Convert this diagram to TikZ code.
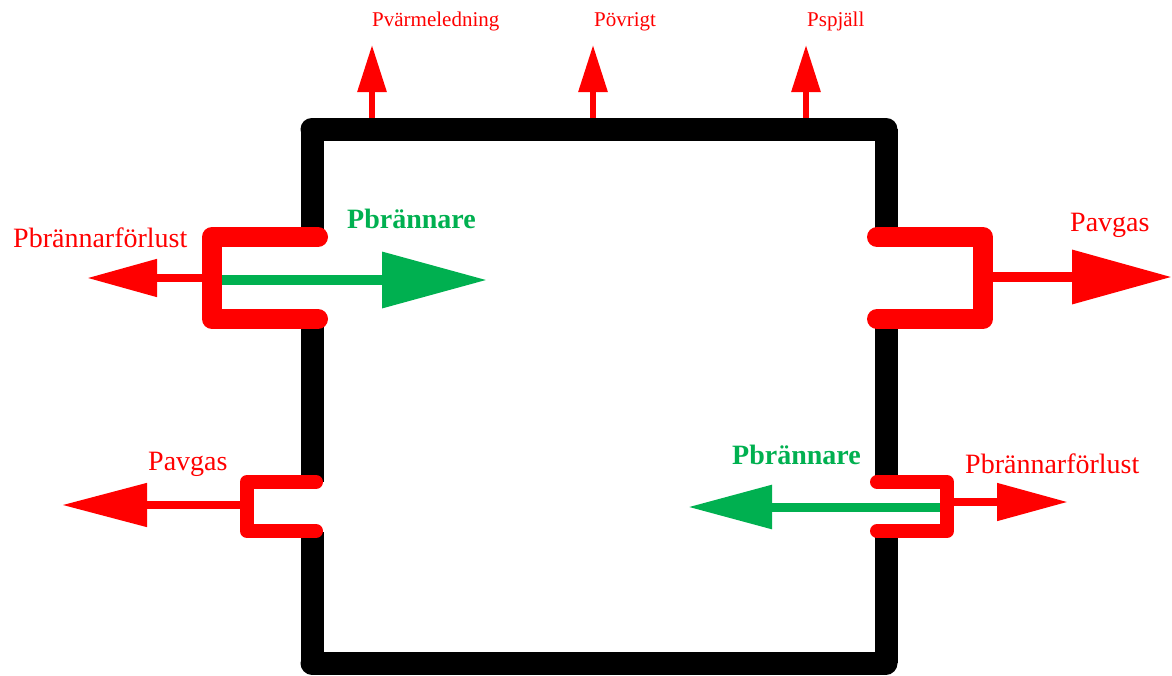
\documentclass[tikz,border=0pt]{standalone}
\usepackage{fontspec}
\setmainfont{Liberation Serif}
\usetikzlibrary{arrows.meta}
\definecolor{lossred}{RGB}{255,0,0}
\definecolor{burngreen}{RGB}{0,176,80}
\begin{document}
\begin{tikzpicture}[x=1pt,y=-1pt,
  wall/.style={line width=23pt,line cap=round},
  sidewall/.style={line width=23pt,line cap=butt},
  flange/.style={lossred,line width=20pt,line cap=round,line join=round},
  smallflange/.style={lossred,line width=14pt,line cap=round,line join=round},
  bigtext/.style={font=\fontsize{28}{32}\selectfont,inner sep=0pt,anchor=base west},
  smalltext/.style={font=\fontsize{21}{24}\selectfont,inner sep=0pt,anchor=base west,text=lossred},
  uparrow/.style={lossred,line width=6pt,-{Triangle[length=47pt,width=28pt]}}
]
\useasboundingbox (0,0) rectangle (1172,675);

% corners of the box
\coordinate (tl) at (312,129);
\coordinate (tr) at (886,129);
\coordinate (bl) at (312,663);
\coordinate (br) at (886,663);

% heat losses through the top
\node[smalltext] (lv) at (372,26) {Pvärmeledning};
\node[smalltext] (lo) at (594,26) {Pövrigt};
\node[smalltext] (ls) at (807,26) {Pspjäll};
\coordinate (v0) at (372,129); \coordinate (v1) at (372,45);
\coordinate (o0) at (593,129); \coordinate (o1) at (593,45);
\coordinate (s0) at (806,129); \coordinate (s1) at (806,45);
\draw[uparrow] (v0) -- (v1);
\draw[uparrow] (o0) -- (o1);
\draw[uparrow] (s0) -- (s1);

% walls, open where the burner ports sit
\draw[sidewall] (tl) -- (312,237) (312,320) -- (312,482) (312,532) -- (bl);
\draw[sidewall] (tr) -- (886,237) (886,320) -- (886,482) (886,532) -- (br);
\draw[wall] (tl) -- (tr);
\draw[wall] (bl) -- (br);

% upper left port
\coordinate (ula) at (212,278); \coordinate (ulb) at (87,278);
\coordinate (ulg) at (212,280); \coordinate (ulh) at (487,280);
\draw[lossred,line width=8pt,-{Triangle[length=70pt,width=36pt]}] (ula) -- (ulb);
\draw[burngreen,line width=10pt,-{Triangle[length=105pt,width=54pt]}] (ulg) -- (ulh);
\draw[flange] (318,237) -- (212,237) -- (212,319) -- (318,319);
\node[bigtext,text=lossred] (ulf) at (13,247) {Pbrännarförlust};
\node[bigtext,text=burngreen] (ulp) at (347,228) {\bfseries Pbrännare};

% upper right port
\coordinate (ura) at (983,277); \coordinate (urb) at (1172,277);
\draw[lossred,line width=10pt,-{Triangle[length=100pt,width=52pt]}] (ura) -- (urb);
\draw[flange] (877,237) -- (983,237) -- (983,319) -- (877,319);
\node[bigtext,text=lossred] (urg) at (1070,231) {Pavgas};

% lower left port
\coordinate (lla) at (247,505); \coordinate (llb) at (62,505);
\draw[lossred,line width=8pt,-{Triangle[length=85pt,width=42pt]}] (lla) -- (llb);
\draw[smallflange] (316,482) -- (247,482) -- (247,531) -- (316,531);
\node[bigtext,text=lossred] (llg) at (148,470) {Pavgas};

% lower right port
\coordinate (lra) at (947,502); \coordinate (lrb) at (1068,502);
\coordinate (lrg) at (945,507); \coordinate (lrh) at (688,507);
\draw[lossred,line width=8pt,-{Triangle[length=71pt,width=36pt]}] (lra) -- (lrb);
\draw[burngreen,line width=9pt,-{Triangle[length=84pt,width=42pt]}] (lrg) -- (lrh);
\draw[smallflange] (877,482) -- (947,482) -- (947,531) -- (877,531);
\node[bigtext,text=burngreen] (lrp) at (732,464) {\bfseries Pbrännare};
\node[bigtext,text=lossred] (lrf) at (965,473) {Pbrännarförlust};
\end{tikzpicture}
\end{document}
